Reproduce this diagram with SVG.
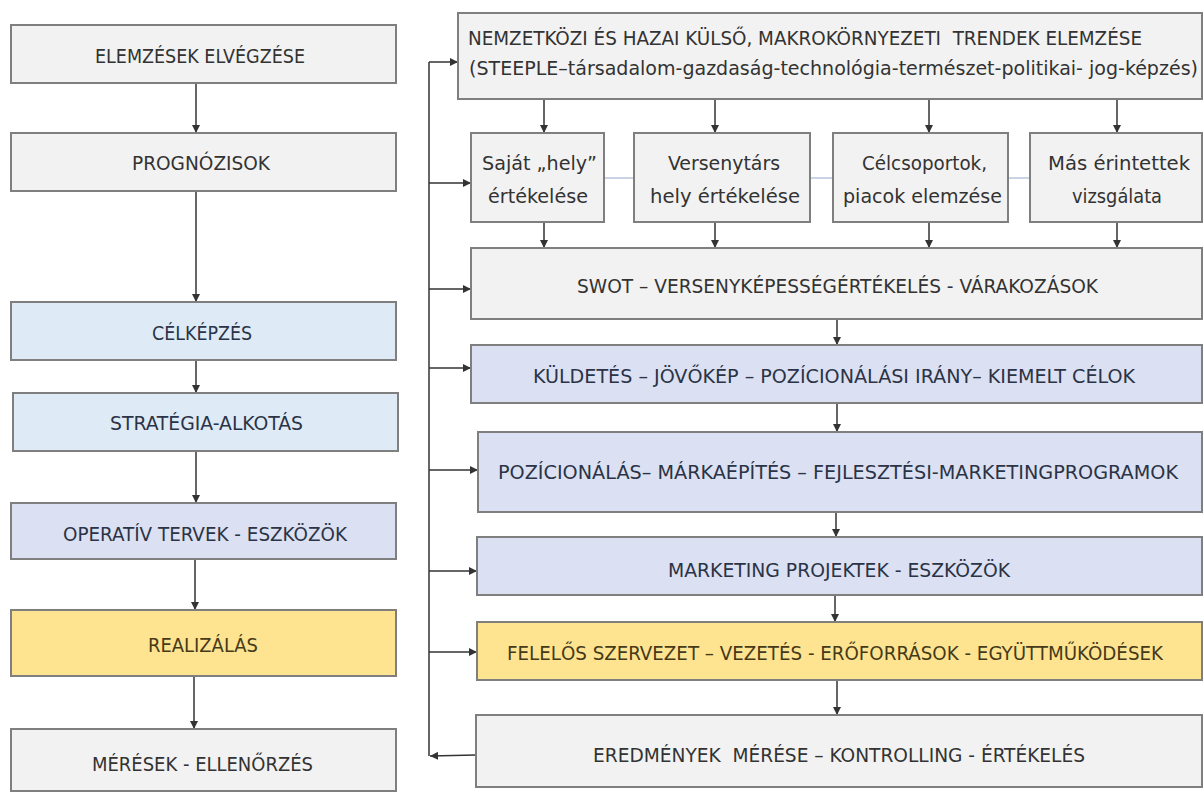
<svg xmlns="http://www.w3.org/2000/svg" width="1204" height="794" viewBox="0 0 1204 794">
<style>
.box{stroke:#7f7f7f;stroke-width:2}
.gray{fill:#f2f2f2}
.sky{fill:#deebf7}
.lav{fill:#dbe1f2}
.yel{fill:#fee491}
text{font-family:"Liberation Sans Narrow","DejaVu Sans Condensed","Liberation Sans",sans-serif;font-size:20px;fill:#333333}
.tb{fill:#2b3346}
.ty{fill:#453a18}
.con{stroke:#333;stroke-width:1.5;fill:none}
.link{stroke:#b7c6de;stroke-width:1.5;fill:none}
</style>
<defs>
<marker id="ah" markerUnits="userSpaceOnUse" markerWidth="8" markerHeight="8" refX="8" refY="4" orient="auto">
<path d="M0,0 L8,4 L0,8 z" fill="#333"/>
</marker>
</defs>
<rect width="1204" height="794" fill="#ffffff"/>

<g id="connectors">
<path class="con" d="M196,83 L196,133" marker-end="url(#ah)"/>
<path class="con" d="M196,191 L196,302" marker-end="url(#ah)"/>
<path class="con" d="M196,360 L196,393" marker-end="url(#ah)"/>
<path class="con" d="M196,451 L196,503" marker-end="url(#ah)"/>
<path class="con" d="M195,559 L195,610" marker-end="url(#ah)"/>
<path class="con" d="M194,676 L194,729" marker-end="url(#ah)"/>
<path class="con" d="M544,99 L544,133" marker-end="url(#ah)"/>
<path class="con" d="M715,99 L715,133" marker-end="url(#ah)"/>
<path class="con" d="M929,99 L929,133" marker-end="url(#ah)"/>
<path class="con" d="M1117,99 L1117,133" marker-end="url(#ah)"/>
<path class="link" d="M604,178 L634,178 M810,178 L833,178 M1008,178 L1030,178"/>
<path class="con" d="M544,222 L544,248" marker-end="url(#ah)"/>
<path class="con" d="M715,222 L715,248" marker-end="url(#ah)"/>
<path class="con" d="M929,222 L929,248" marker-end="url(#ah)"/>
<path class="con" d="M1117,222 L1117,248" marker-end="url(#ah)"/>
<path class="con" d="M837,319 L837,345" marker-end="url(#ah)"/>
<path class="con" d="M837,403 L837,432" marker-end="url(#ah)"/>
<path class="con" d="M836,512 L836,537" marker-end="url(#ah)"/>
<path class="con" d="M835,595 L835,622" marker-end="url(#ah)"/>
<path class="con" d="M837,680 L837,715" marker-end="url(#ah)"/>
<path class="con" d="M476,755 L430,756" marker-end="url(#ah)"/>
<path class="con" d="M429,756 L429,62"/>
<path class="con" d="M429,62 L458,62" marker-end="url(#ah)"/>
<path class="con" d="M429,183 L471,183" marker-end="url(#ah)"/>
<path class="con" d="M429,289 L471,289" marker-end="url(#ah)"/>
<path class="con" d="M429,368 L471,368" marker-end="url(#ah)"/>
<path class="con" d="M429,470 L478,470" marker-end="url(#ah)"/>
<path class="con" d="M429,571 L477,571" marker-end="url(#ah)"/>
<path class="con" d="M429,652 L477,652" marker-end="url(#ah)"/>
</g>

<g id="n-elemzesek"><rect class="box gray" x="11" y="25" width="385" height="58"/><text x="95" y="63" textLength="210" lengthAdjust="spacingAndGlyphs">ELEMZÉSEK ELVÉGZÉSE</text></g>
<g id="n-prognozisok"><rect class="box gray" x="11" y="133" width="385" height="58"/><text x="132" y="170" textLength="138" lengthAdjust="spacingAndGlyphs">PROGNÓZISOK</text></g>
<g id="n-celkepzes"><rect class="box sky" x="11" y="302" width="385" height="58"/><text class="tb" x="152" y="340" textLength="100" lengthAdjust="spacingAndGlyphs">CÉLKÉPZÉS</text></g>
<g id="n-strategia"><rect class="box sky" x="13" y="393" width="385" height="58"/><text class="tb" x="110" y="430" textLength="193" lengthAdjust="spacingAndGlyphs">STRATÉGIA-ALKOTÁS</text></g>
<g id="n-operativ"><rect class="box lav" x="11" y="503" width="385" height="56"/><text class="tb" x="63" y="541" textLength="284" lengthAdjust="spacingAndGlyphs">OPERATÍV TERVEK - ESZKÖZÖK</text></g>
<g id="n-realizalas"><rect class="box yel" x="11" y="610" width="385" height="66"/><text class="ty" x="148" y="652" textLength="110" lengthAdjust="spacingAndGlyphs">REALIZÁLÁS</text></g>
<g id="n-meresek"><rect class="box gray" x="11" y="729" width="385" height="62"/><text x="92" y="771" textLength="221" lengthAdjust="spacingAndGlyphs">MÉRÉSEK - ELLENŐRZÉS</text></g>

<g id="n-trendek"><rect class="box gray" x="458" y="13" width="744" height="86"/>
<text x="468" y="45" textLength="674" lengthAdjust="spacingAndGlyphs" xml:space="preserve">NEMZETKÖZI ÉS HAZAI KÜLSŐ, MAKROKÖRNYEZETI  TRENDEK ELEMZÉSE</text>
<text x="469" y="75" textLength="729" lengthAdjust="spacingAndGlyphs">(STEEPLE–társadalom-gazdaság-technológia-természet-politikai- jog-képzés)</text></g>
<g id="n-sajat"><rect class="box gray" x="471" y="133" width="133" height="89"/>
<text x="482" y="170" textLength="115" lengthAdjust="spacingAndGlyphs">Saját „hely”</text>
<text x="488" y="203" textLength="100" lengthAdjust="spacingAndGlyphs">értékelése</text></g>
<g id="n-versenytars"><rect class="box gray" x="634" y="133" width="176" height="89"/>
<text x="668" y="170" textLength="112" lengthAdjust="spacingAndGlyphs">Versenytárs</text>
<text x="650" y="203" textLength="150" lengthAdjust="spacingAndGlyphs">hely értékelése</text></g>
<g id="n-celcsoportok"><rect class="box gray" x="833" y="133" width="175" height="89"/>
<text x="862" y="170" textLength="125" lengthAdjust="spacingAndGlyphs">Célcsoportok,</text>
<text x="843" y="203" textLength="159" lengthAdjust="spacingAndGlyphs">piacok elemzése</text></g>
<g id="n-mas"><rect class="box gray" x="1030" y="133" width="172" height="89"/>
<text x="1048" y="170" textLength="142" lengthAdjust="spacingAndGlyphs">Más érintettek</text>
<text x="1072" y="203" textLength="90" lengthAdjust="spacingAndGlyphs">vizsgálata</text></g>
<g id="n-swot"><rect class="box gray" x="471" y="248" width="731" height="71"/><text x="577" y="293" textLength="521" lengthAdjust="spacingAndGlyphs">SWOT – VERSENYKÉPESSÉGÉRTÉKELÉS - VÁRAKOZÁSOK</text></g>
<g id="n-kuldetes"><rect class="box lav" x="471" y="345" width="731" height="58"/><text class="tb" x="533" y="383" textLength="602" lengthAdjust="spacingAndGlyphs">KÜLDETÉS – JÖVŐKÉP – POZÍCIONÁLÁSI IRÁNY– KIEMELT CÉLOK</text></g>
<g id="n-pozicionalas"><rect class="box lav" x="478" y="432" width="724" height="80"/><text class="tb" x="498" y="479" textLength="680" lengthAdjust="spacingAndGlyphs">POZÍCIONÁLÁS– MÁRKAÉPÍTÉS – FEJLESZTÉSI-MARKETINGPROGRAMOK</text></g>
<g id="n-marketing"><rect class="box lav" x="477" y="537" width="725" height="58"/><text class="tb" x="668" y="577" textLength="342" lengthAdjust="spacingAndGlyphs">MARKETING PROJEKTEK - ESZKÖZÖK</text></g>
<g id="n-felelos"><rect class="box yel" x="477" y="622" width="725" height="58"/><text class="ty" x="507" y="660" textLength="656" lengthAdjust="spacingAndGlyphs">FELELŐS SZERVEZET – VEZETÉS - ERŐFORRÁSOK - EGYÜTTMŰKÖDÉSEK</text></g>
<g id="n-eredmenyek"><rect class="box gray" x="476" y="715" width="726" height="72"/><text x="593" y="762" textLength="492" lengthAdjust="spacingAndGlyphs" xml:space="preserve">EREDMÉNYEK  MÉRÉSE – KONTROLLING - ÉRTÉKELÉS</text></g>
</svg>
